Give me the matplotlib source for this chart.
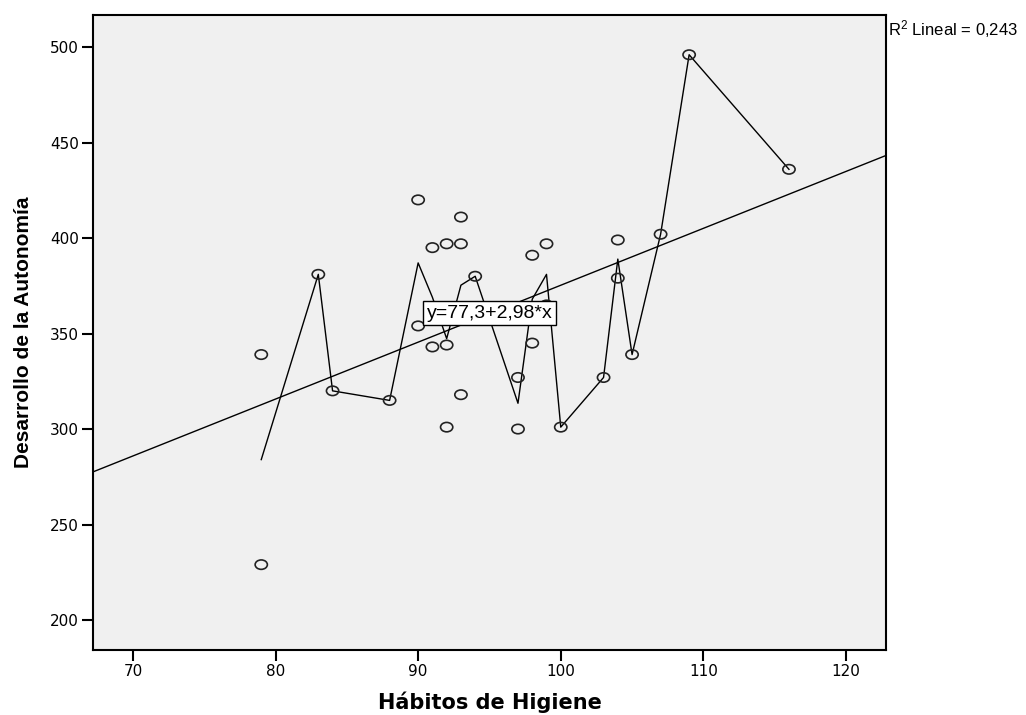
import numpy as np
import pandas as pd
import matplotlib
matplotlib.use("Agg")
import matplotlib.pyplot as plt
from matplotlib.markers import MarkerStyle
from matplotlib.transforms import Affine2D

# puntos observados
habitos = [79, 79, 83, 84, 88, 90, 90, 91, 91, 92, 92, 92, 93, 93, 93, 94,
           97, 97, 98, 98, 99, 99, 100, 103, 104, 104, 105, 107, 109, 116]
autonomia = [339, 229, 381, 320, 315, 420, 354, 395, 343, 397, 344, 301, 411, 397, 318, 380,
             327, 300, 391, 345, 397, 365, 301, 327, 399, 379, 339, 402, 496, 436]

# ajuste lineal mostrado en el grafico
intercepto = 77.3
pendiente = 2.98
r2 = 0.243

x_ticks = [70, 80, 90, 100, 110, 120]
y_ticks = [200, 250, 300, 350, 400, 450, 500]

plt.rcParams["mathtext.fontset"] = "custom"
plt.rcParams["mathtext.rm"] = "Liberation Sans"
plt.rcParams["mathtext.it"] = "Liberation Sans"

df = pd.DataFrame({"x": habitos, "y": autonomia})
medias = df.groupby("x")["y"].mean()

fig = plt.figure(figsize=(10.26, 7.15), dpi=100)
ax = fig.add_axes([0.0906, 0.0909, 0.7729, 0.8881])
ax.set_facecolor("#F0F0F0")

xlim = (67.2, 122.8)
ylim = (184.3, 516.8)

# linea de ajuste
xs = np.array(xlim)
ax.plot(xs, intercepto + pendiente * xs, color="black", lw=1.0, zorder=2)

# linea de interpolacion por medias
ax.plot(medias.index, medias.values, color="black", lw=1.0, zorder=3)

marker = MarkerStyle("o", transform=Affine2D().scale(1.3, 1.0))
ax.scatter(df["x"], df["y"], marker=marker, s=46, facecolors="none",
           edgecolors="#222222", linewidths=1.2, zorder=4)

ax.text(95, 360.7, "y=77,3+2,98*x", ha="center", va="center", fontsize=14,
        family="Liberation Sans", zorder=5,
        bbox=dict(boxstyle="square,pad=0.18", fc="white", ec="black", lw=1.0))

fig.text(0.8655, 0.959, "R$^2$ Lineal = " + f"{r2:.3f}".replace(".", ","),
         fontsize=12, family="Liberation Sans", ha="left", va="center")

ax.set_xlim(*xlim)
ax.set_ylim(*ylim)
ax.set_xticks(x_ticks)
ax.set_yticks(y_ticks)
ax.tick_params(direction="out", length=8, width=1.5, labelsize=11, pad=2)
for s in ax.spines.values():
    s.set_linewidth(1.5)

ax.set_xlabel("Hábitos de Higiene", fontsize=15, fontweight="bold", labelpad=9)
ax.set_ylabel("Desarrollo de la Autonomía", fontsize=15, fontweight="bold",
              family="Liberation Sans", labelpad=12)

fig.savefig("out.png", dpi=100)
